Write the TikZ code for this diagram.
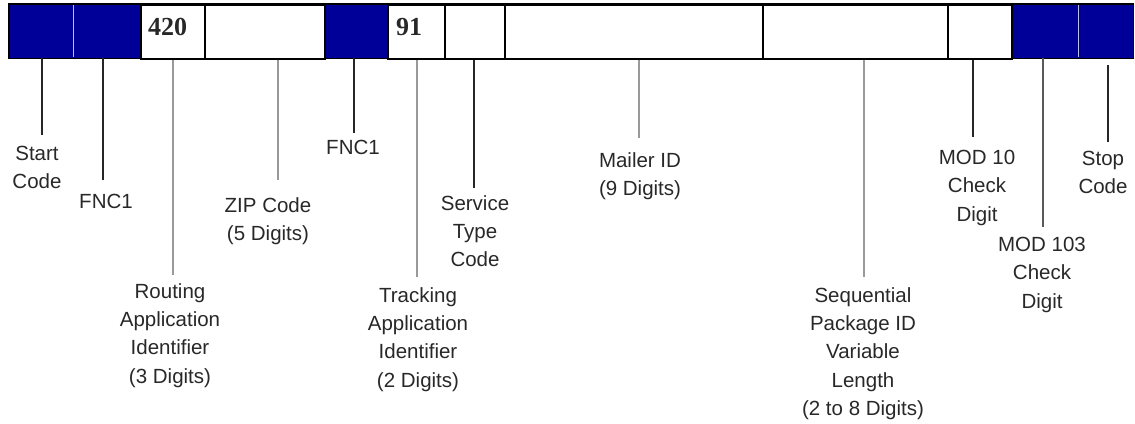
\documentclass[tikz,border=0pt]{standalone}
\usepackage{fontspec}
\setmainfont{Liberation Sans}
\newfontfamily\numfont{Liberation Serif}
\definecolor{ublue}{RGB}{0,0,153}
\definecolor{ltxt}{RGB}{40,40,40}
\tikzset{
  cell/.style={rectangle, draw=black, line width=1.6pt, minimum height=54pt, inner sep=0pt, anchor=north west},
  bluecell/.style={rectangle, fill=ublue, minimum height=54pt, inner sep=0pt, anchor=north west},
  outline/.style={draw=black, line width=1.6pt},
  lbl/.style={anchor=north, align=center, inner sep=0pt, text=ltxt, font=\fontsize{20.5}{28.4}\selectfont},
  num/.style={anchor=west, inner sep=0pt, text=ltxt, font=\numfont\bfseries\fontsize{26}{30}\selectfont},
  dline/.style={line width=1.6pt, black!85},
  gline/.style={line width=1.6pt, black!40},
  mline/.style={line width=1.6pt, black!65},
  divider/.style={line width=1.2pt, white!75!ublue}
}
\begin{document}
\begin{tikzpicture}[x=1pt,y=-1pt]
\useasboundingbox (0,0) rectangle (1135,423);
% blue cells (filled only)
\node[bluecell, minimum width=64pt]  (cStart) at (9,4) {};
\node[bluecell, minimum width=67pt]  (cFnc)   at (73,4) {};
\node[bluecell, minimum width=63pt]  (cFnc2)  at (324,4) {};
\node[bluecell, minimum width=67pt]  (cMod103) at (1011,4) {};
\node[bluecell, minimum width=55pt]  (cStop)  at (1078,4) {};
% white cells
\node[cell, minimum width=64pt]      (cRout)  at (140,4) {};
\node[cell, minimum width=120pt]     (cZip)   at (204,4) {};
\node[cell, minimum width=57pt]      (cTrack) at (387,4) {};
\node[cell, minimum width=60pt]      (cServ)  at (444,4) {};
\node[cell, minimum width=258pt]     (cMail)  at (504,4) {};
\node[cell, minimum width=185pt]     (cSeq)   at (762,4) {};
\node[cell, minimum width=64pt]      (cMod10) at (947,4) {};
% outline of the whole bar
\draw[outline] (cStart.north west) rectangle (cStop.south east);
% light dividers inside the blue pairs
\draw[divider] ([yshift=-1pt]cStart.north east) -- ([yshift=1pt]cStart.south east);
\draw[divider] ([yshift=-1pt]cMod103.north east) -- ([yshift=1pt]cMod103.south east);
% numbers
\node[num] (n420) at (148,27) {420};
\node[num] (n91)  at (396,27) {91};
% labels
\node[lbl] (lStart) at (37,146)  {Start\\Code};
\node[lbl] (lFnc)   at (106,194) {FNC1};
\node[lbl] (lRout)  at (170,283) {Routing\\Application\\Identifier\\(3 Digits)};
\node[lbl] (lZip)   at (268,197) {ZIP Code\\(5 Digits)};
\node[lbl] (lFnc2)  at (353,140) {FNC1};
\node[lbl] (lTrack) at (418,287) {Tracking\\Application\\Identifier\\(2 Digits)};
\node[lbl] (lServ)  at (475,195) {Service\\Type\\Code};
\node[lbl] (lMail)  at (640,152) {Mailer ID\\(9 Digits)};
\node[lbl] (lSeq)   at (863,287) {Sequential\\Package ID\\Variable\\Length\\(2 to 8 Digits)};
\node[lbl] (lMod10) at (977,150) {MOD 10\\Check\\Digit};
\node[lbl] (lMod103) at (1042,237) {MOD 103\\Check\\Digit};
\node[lbl] (lStop)  at (1103,151) {Stop\\Code};
% connector end points
\coordinate (eStart) at (42,135);
\coordinate (eFnc)   at (103,180);
\coordinate (eRout)  at (173,275);
\coordinate (eZip)   at (278,180);
\coordinate (eFnc2)  at (354,133);
\coordinate (eTrack) at (417,277);
\coordinate (eServ)  at (474,188);
\coordinate (eMail)  at (639,138);
\coordinate (eSeq)   at (864,277);
\coordinate (eMod10) at (973,137);
\coordinate (eMod103) at (1043,227);
\coordinate (eStop)  at (1108,142);
\coordinate (sStop)  at (1108,65);
% connectors
\draw[dline] (cStart.south -| eStart) -- (eStart);
\draw[dline] (cFnc.south -| eFnc) -- (eFnc);
\draw[gline] (cRout.south -| eRout) -- (eRout);
\draw[gline] (cZip.south -| eZip) -- (eZip);
\draw[dline] (cFnc2.south -| eFnc2) -- (eFnc2);
\draw[gline] (cTrack.south -| eTrack) -- (eTrack);
\draw[dline] (cServ.south -| eServ) -- (eServ);
\draw[gline] (cMail.south -| eMail) -- (eMail);
\draw[gline] (cSeq.south -| eSeq) -- (eSeq);
\draw[dline] (cMod10.south -| eMod10) -- (eMod10);
\draw[mline] (cMod103.south -| eMod103) -- (eMod103);
\draw[dline] (sStop) -- (eStop);
\end{tikzpicture}
\end{document}
